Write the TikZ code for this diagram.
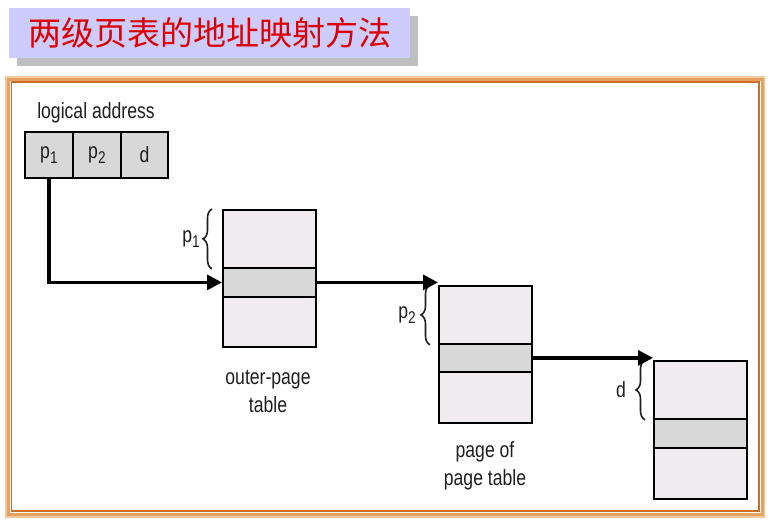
\documentclass[tikz,border=0pt]{standalone}
\usepackage{fontspec}
\newfontfamily\narrow[FakeStretch=0.8]{Liberation Sans}
\newfontfamily\cjk{Noto Sans CJK SC}
\usetikzlibrary{arrows.meta,decorations.pathreplacing}
\definecolor{titlebg}{RGB}{204,204,255}
\definecolor{shadowgray}{RGB}{191,191,191}
\definecolor{titlered}{RGB}{220,0,0}
\definecolor{cellgray}{RGB}{216,216,216}
\definecolor{tablefill}{RGB}{239,235,239}
\definecolor{frameout}{RGB}{240,200,160}
\definecolor{framemid}{RGB}{232,160,96}
\definecolor{framein}{RGB}{205,110,40}
\definecolor{inkgray}{RGB}{30,30,30}
\newcommand{\mysub}[1]{\raisebox{-0.45ex}{\fontsize{17}{17}\selectfont #1}}
\begin{document}
\begin{tikzpicture}[x=1pt,y=-1pt,
  lbl/.style={font=\narrow\fontsize{22}{28}\selectfont, text=inkgray, inner sep=0pt},
  cell/.style={draw=black, line width=1.8pt, fill=cellgray, inner sep=0pt, anchor=north west,
    minimum height=46pt, font=\narrow\fontsize{22}{28}\selectfont, text=inkgray},
  trow/.style={draw=black, line width=1.8pt, fill=tablefill, inner sep=0pt, anchor=north west,
    minimum width=93pt},
  srow/.style={trow, fill=cellgray},
  arr/.style={line width=3.2pt, -{Triangle[length=15pt,width=15pt]}},
  brc/.style={decorate, decoration={brace, amplitude=9pt}, line width=1.6pt, draw=inkgray}
]
\useasboundingbox (0,0) rectangle (771,525);
% title
\fill[shadowgray] (17,16) rectangle (418,66);
\node[fill=titlebg, minimum width=401pt, minimum height=50pt, inner sep=0pt, anchor=north west,
  text=titlered, font=\cjk\fontsize{33}{33}\selectfont] (title) at (9,8) {两级页表的地址映射方法};
% frame
\draw[frameout, line width=2pt] (6,77) rectangle (764,517);
\draw[framemid, line width=3pt] (8.5,79) rectangle (762,514);
\draw[framein, line width=1.2pt] (11.5,82) rectangle (759,511);
% logical address
\node[lbl] (la) at (96,113) {logical address};
\node[cell, minimum width=48pt] (a1) at (24,131) {p\mysub{1}};
\node[cell, minimum width=48pt] (a2) at (72,131) {p\mysub{2}};
\node[cell, minimum width=47pt] (a3) at (120,131) {d};
% outer-page table
\node[trow, minimum height=58pt] (t1top) at (222,209) {};
\node[srow, minimum height=29pt] (t1mid) at (222,267) {};
\node[trow, minimum height=50pt] (t1bot) at (222,296) {};
% page of page table
\node[trow, minimum height=58pt] (t2top) at (438,285) {};
\node[srow, minimum height=28pt] (t2mid) at (438,343) {};
\node[trow, minimum height=51pt] (t2bot) at (438,371) {};
% page
\node[trow, minimum height=58pt] (t3top) at (653,360) {};
\node[srow, minimum height=29pt] (t3mid) at (653,418) {};
\node[trow, minimum height=51pt] (t3bot) at (653,447) {};
% captions
\node[lbl, align=center] (c1) at (268,391) {outer-page\\table};
\node[lbl, align=center] (c2) at (485,466) {page of\\page table};
% braces
\draw[brc] ([xshift=-10pt]t1top.south west) -- ([xshift=-10pt]t1top.north west);
\draw[brc] ([xshift=-8pt]t2top.south west) -- ([xshift=-8pt]t2top.north west);
\draw[brc] ([xshift=-8pt]t3top.south west) -- ([xshift=-8pt]t3top.north west);
\node[lbl, anchor=east] (b1) at ([xshift=-22pt]t1top.west) {p\mysub{1}};
\node[lbl, anchor=east] (b2) at ([xshift=-22pt]t2top.west) {p\mysub{2}};
\node[lbl, anchor=east] (b3) at ([xshift=-27pt]t3top.west) {d};
% arrows
\draw[arr] (a1.south) |- (t1mid.west);
\draw[arr] (t1mid.east) -- (t1mid.east -| t2top.west);
\draw[arr] (t2mid.east) -- (t2mid.east -| t3top.west);
\end{tikzpicture}
\end{document}
